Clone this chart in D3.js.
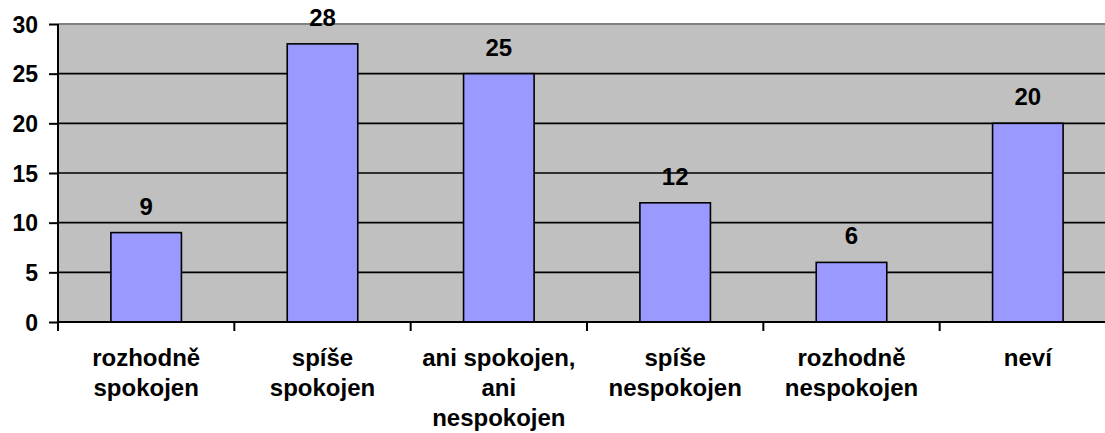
<!DOCTYPE html>
<html>
<head>
<meta charset="utf-8">
<script src="https://cdn.jsdelivr.net/npm/d3@7"></script>
<style>
  body { margin: 0; background: #fff; }
  text { font-family: Arial, "Liberation Sans", sans-serif; font-weight: bold; fill: #000; }
</style>
</head>
<body>
<div id="chart"></div>
<script>
var categories = ["rozhodně\nspokojen", "spíše\nspokojen", "ani spokojen,\nani\nnespokojen",
                  "spíše\nnespokojen", "rozhodně\nnespokojen", "neví"];
var values = [9, 28, 25, 12, 6, 20];
var yTicks = [0, 5, 10, 15, 20, 25, 30];

var svgWidth = 1105;
var svgHeight = 433;

var margin = { top: 24, right: -11, bottom: 111, left: 58 };
var width = svgWidth - margin.left - margin.right;
var height = svgHeight - margin.top - margin.bottom;

var svg = d3.select("#chart")
    .append("svg")
    .attr("width", svgWidth)
    .attr("height", svgHeight);

var chartGroup = svg.append("g")
    .attr("transform", "translate(" + margin.left + "," + margin.top + ")");

var xScale = d3.scaleBand()
    .domain(categories)
    .range([0, width])
    .paddingInner(0.6)
    .paddingOuter(0.3);

var yScale = d3.scaleLinear()
    .domain([0, 30])
    .range([height, 0]);

// plot background
chartGroup.append("rect")
    .attr("x", 0)
    .attr("y", 0)
    .attr("width", width)
    .attr("height", height)
    .attr("fill", "#c0c0c0");

// gridlines
chartGroup.selectAll(".grid")
    .data(yTicks.filter(d => d > 0 && d < 30))
    .enter()
    .append("line")
    .attr("x1", 0)
    .attr("x2", width)
    .attr("y1", d => yScale(d))
    .attr("y2", d => yScale(d))
    .attr("stroke", "#000")
    .attr("stroke-width", 1.6);

// top border
chartGroup.append("line")
    .attr("x1", 0)
    .attr("x2", width)
    .attr("y1", yScale(30))
    .attr("y2", yScale(30))
    .attr("stroke", "#808080")
    .attr("stroke-width", 2);

// bars
chartGroup.selectAll(".bar")
    .data(values)
    .enter()
    .append("rect")
    .attr("x", (d, i) => xScale(categories[i]))
    .attr("y", d => yScale(d))
    .attr("width", xScale.bandwidth())
    .attr("height", d => height - yScale(d))
    .attr("fill", "#9999ff")
    .attr("stroke", "#000")
    .attr("stroke-width", 1.6);

// value labels
chartGroup.selectAll(".val")
    .data(values)
    .enter()
    .append("text")
    .attr("x", (d, i) => xScale(categories[i]) + xScale.bandwidth() / 2)
    .attr("y", d => yScale(d) - 18)
    .attr("text-anchor", "middle")
    .style("font-size", "24px")
    .text(d => d);

// y axis
var leftAxis = d3.axisLeft(yScale)
    .tickValues(yTicks)
    .tickSize(9)
    .tickPadding(11);

var yAxis = chartGroup.append("g").call(leftAxis);
yAxis.select(".domain").remove();
yAxis.selectAll(".tick line").attr("stroke", "#000").attr("stroke-width", 2);
yAxis.selectAll(".tick text")
    .style("font-size", "23px")
    .style("font-family", "Arial, 'Liberation Sans', sans-serif")
    .attr("dy", "0.36em");

chartGroup.append("line")
    .attr("x1", 0).attr("x2", 0)
    .attr("y1", 0).attr("y2", height)
    .attr("stroke", "#000")
    .attr("stroke-width", 2);

// x axis line and category ticks
chartGroup.append("line")
    .attr("x1", 0).attr("x2", width)
    .attr("y1", height).attr("y2", height)
    .attr("stroke", "#000")
    .attr("stroke-width", 2);

chartGroup.selectAll(".xtick")
    .data(d3.range(categories.length + 1))
    .enter()
    .append("line")
    .attr("x1", i => i * xScale.step())
    .attr("x2", i => i * xScale.step())
    .attr("y1", height)
    .attr("y2", height + 9)
    .attr("stroke", "#000")
    .attr("stroke-width", 2);

// category labels
var labels = chartGroup.selectAll(".xlab")
    .data(categories)
    .enter()
    .append("text")
    .attr("text-anchor", "middle")
    .style("font-size", "24px")
    .attr("transform", d => "translate(" + (xScale(d) + xScale.bandwidth() / 2) + "," + (height + 44) + ")");

labels.selectAll("tspan")
    .data(d => d.split("\n"))
    .enter()
    .append("tspan")
    .attr("x", 0)
    .attr("y", (d, i) => i * 30)
    .text(d => d);
</script>
</body>
</html>
